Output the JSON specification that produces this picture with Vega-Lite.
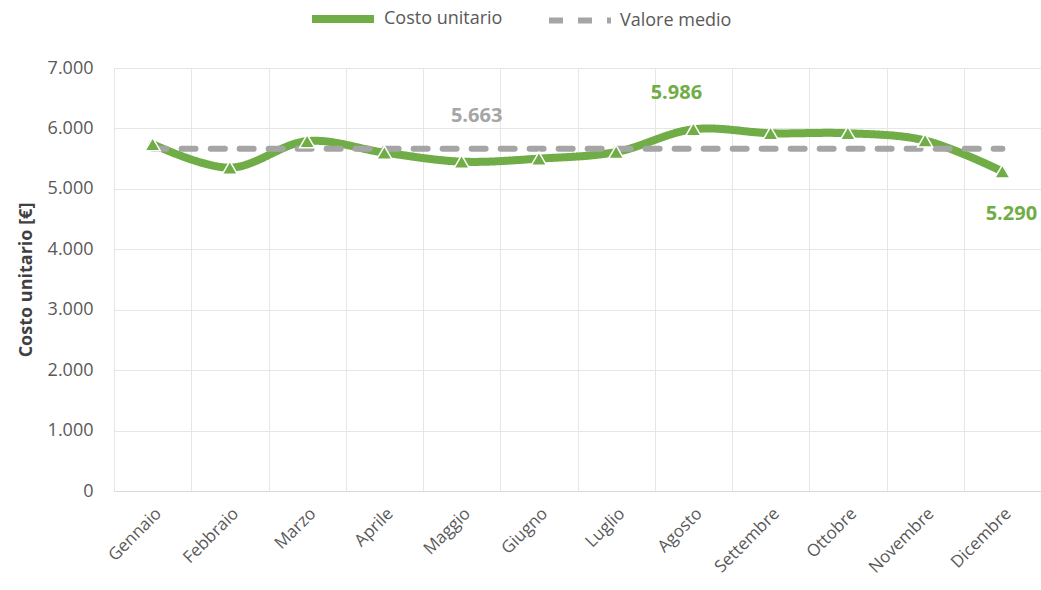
{
  "$schema": "https://vega.github.io/schema/vega-lite/v6.json",
  "width": 927,
  "height": 423,
  "autosize": {"type": "none"},
  "padding": {"left": 114, "top": 68, "right": 0, "bottom": 99},
  "background": "white",
  "config": {
    "locale": {"number": {"decimal": ",", "thousands": ".", "grouping": [3], "currency": ["", " €"]}},
    "font": "Open Sans",
    "view": {"stroke": null},
    "axisY": {
      "grid": true, "gridColor": "#E6E6E6", "gridWidth": 1, "domain": false, "ticks": false, "tickSize": 0,
      "labelPadding": 21, "labelFontSize": 18, "labelColor": "#595959", "tickCount": 7, "format": ",.0f",
      "titleFontSize": 18, "titleFontWeight": "bold", "titleColor": "#404040", "titlePadding": 12
    },
    "axisX": {
      "grid": true, "tickBand": "extent", "gridColor": "#E6E6E6", "domainColor": "#D9D9D9", "domainWidth": 1,
      "ticks": false, "tickSize": 0, "labelAngle": -45, "labelFontSize": 17, "labelColor": "#595959", "labelPadding": 14
    }
  },
  "data": {
    "values": [
      {"mese": "Gennaio", "Costo unitario": 5740, "Valore medio": 5663},
      {"mese": "Febbraio", "Costo unitario": 5350, "Valore medio": 5663},
      {"mese": "Marzo", "Costo unitario": 5790, "Valore medio": 5663},
      {"mese": "Aprile", "Costo unitario": 5600, "Valore medio": 5663},
      {"mese": "Maggio", "Costo unitario": 5450, "Valore medio": 5663},
      {"mese": "Giugno", "Costo unitario": 5500, "Valore medio": 5663},
      {"mese": "Luglio", "Costo unitario": 5610, "Valore medio": 5663},
      {"mese": "Agosto", "Costo unitario": 5986, "Valore medio": 5663},
      {"mese": "Settembre", "Costo unitario": 5920, "Valore medio": 5663},
      {"mese": "Ottobre", "Costo unitario": 5920, "Valore medio": 5663},
      {"mese": "Novembre", "Costo unitario": 5800, "Valore medio": 5663},
      {"mese": "Dicembre", "Costo unitario": 5290, "Valore medio": 5663}
    ]
  },
  "encoding": {
    "x": {
      "field": "mese", "type": "nominal", "title": null,
      "sort": ["Gennaio", "Febbraio", "Marzo", "Aprile", "Maggio", "Giugno", "Luglio", "Agosto", "Settembre", "Ottobre", "Novembre", "Dicembre"],
      "scale": {"type": "band", "paddingInner": 0, "paddingOuter": 0}
    }
  },
  "layer": [
    {
      "transform": [{"fold": ["Costo unitario", "Valore medio"], "as": ["serie", "valore"]}],
      "mark": {"type": "line", "interpolate": "catmull-rom", "strokeCap": "round", "strokeJoin": "round"},
      "encoding": {
        "y": {"field": "valore", "type": "quantitative", "title": "Costo unitario [€]", "scale": {"domain": [0, 7000]}},
        "color": {
          "field": "serie", "type": "nominal",
          "scale": {"domain": ["Costo unitario", "Valore medio"], "range": ["#70AD47", "#A5A5A5"]},
          "legend": {
            "title": null, "orient": "none", "direction": "horizontal", "legendX": 194, "legendY": -84,
            "symbolType": "stroke", "symbolSize": 3844, "symbolStrokeWidth": 7, "labelFontSize": 18,
            "labelColor": "#595959", "labelOffset": 6, "columnPadding": 34, "padding": 0
          }
        },
        "strokeDash": {
          "field": "serie", "type": "nominal",
          "scale": {"domain": ["Costo unitario", "Valore medio"], "range": [[1, 0], [14, 15]]},
          "legend": {
            "title": null, "orient": "none", "direction": "horizontal", "legendX": 194, "legendY": -84,
            "symbolType": "stroke", "symbolSize": 3844, "symbolStrokeWidth": 7, "labelFontSize": 18,
            "labelColor": "#595959", "labelOffset": 6, "columnPadding": 34, "padding": 0
          }
        },
        "strokeWidth": {
          "field": "serie", "type": "ordinal",
          "scale": {"domain": ["Costo unitario", "Valore medio"], "range": [8, 6]},
          "legend": null
        }
      }
    },
    {
      "mark": {"type": "point", "shape": "triangle-up", "filled": true, "fill": "#70AD47", "stroke": "white", "strokeWidth": 1.5, "size": 230, "opacity": 1},
      "encoding": {
        "y": {"field": "Costo unitario", "type": "quantitative", "title": "Costo unitario [€]", "scale": {"domain": [0, 7000]}}
      }
    },
    {
      "transform": [{"filter": "datum.mese === 'Maggio'"}],
      "mark": {"type": "text", "dx": 15, "dy": -33, "fontSize": 20, "fontWeight": "bold", "fill": "#A5A5A5"},
      "encoding": {
        "y": {"field": "Valore medio", "type": "quantitative", "title": "Costo unitario [€]", "scale": {"domain": [0, 7000]}},
        "text": {"field": "Valore medio", "type": "quantitative", "format": ",.0f"}
      }
    },
    {
      "transform": [{"filter": "datum.mese === 'Agosto'"}],
      "mark": {"type": "text", "dx": -17, "dy": -36, "fontSize": 20, "fontWeight": "bold", "fill": "#70AD47"},
      "encoding": {
        "y": {"field": "Costo unitario", "type": "quantitative", "title": "Costo unitario [€]", "scale": {"domain": [0, 7000]}},
        "text": {"field": "Costo unitario", "type": "quantitative", "format": ",.0f"}
      }
    },
    {
      "transform": [{"filter": "datum.mese === 'Dicembre'"}],
      "mark": {"type": "text", "dx": 9, "dy": 43, "fontSize": 20, "fontWeight": "bold", "fill": "#70AD47"},
      "encoding": {
        "y": {"field": "Costo unitario", "type": "quantitative", "title": "Costo unitario [€]", "scale": {"domain": [0, 7000]}},
        "text": {"field": "Costo unitario", "type": "quantitative", "format": ",.0f"}
      }
    }
  ]
}
